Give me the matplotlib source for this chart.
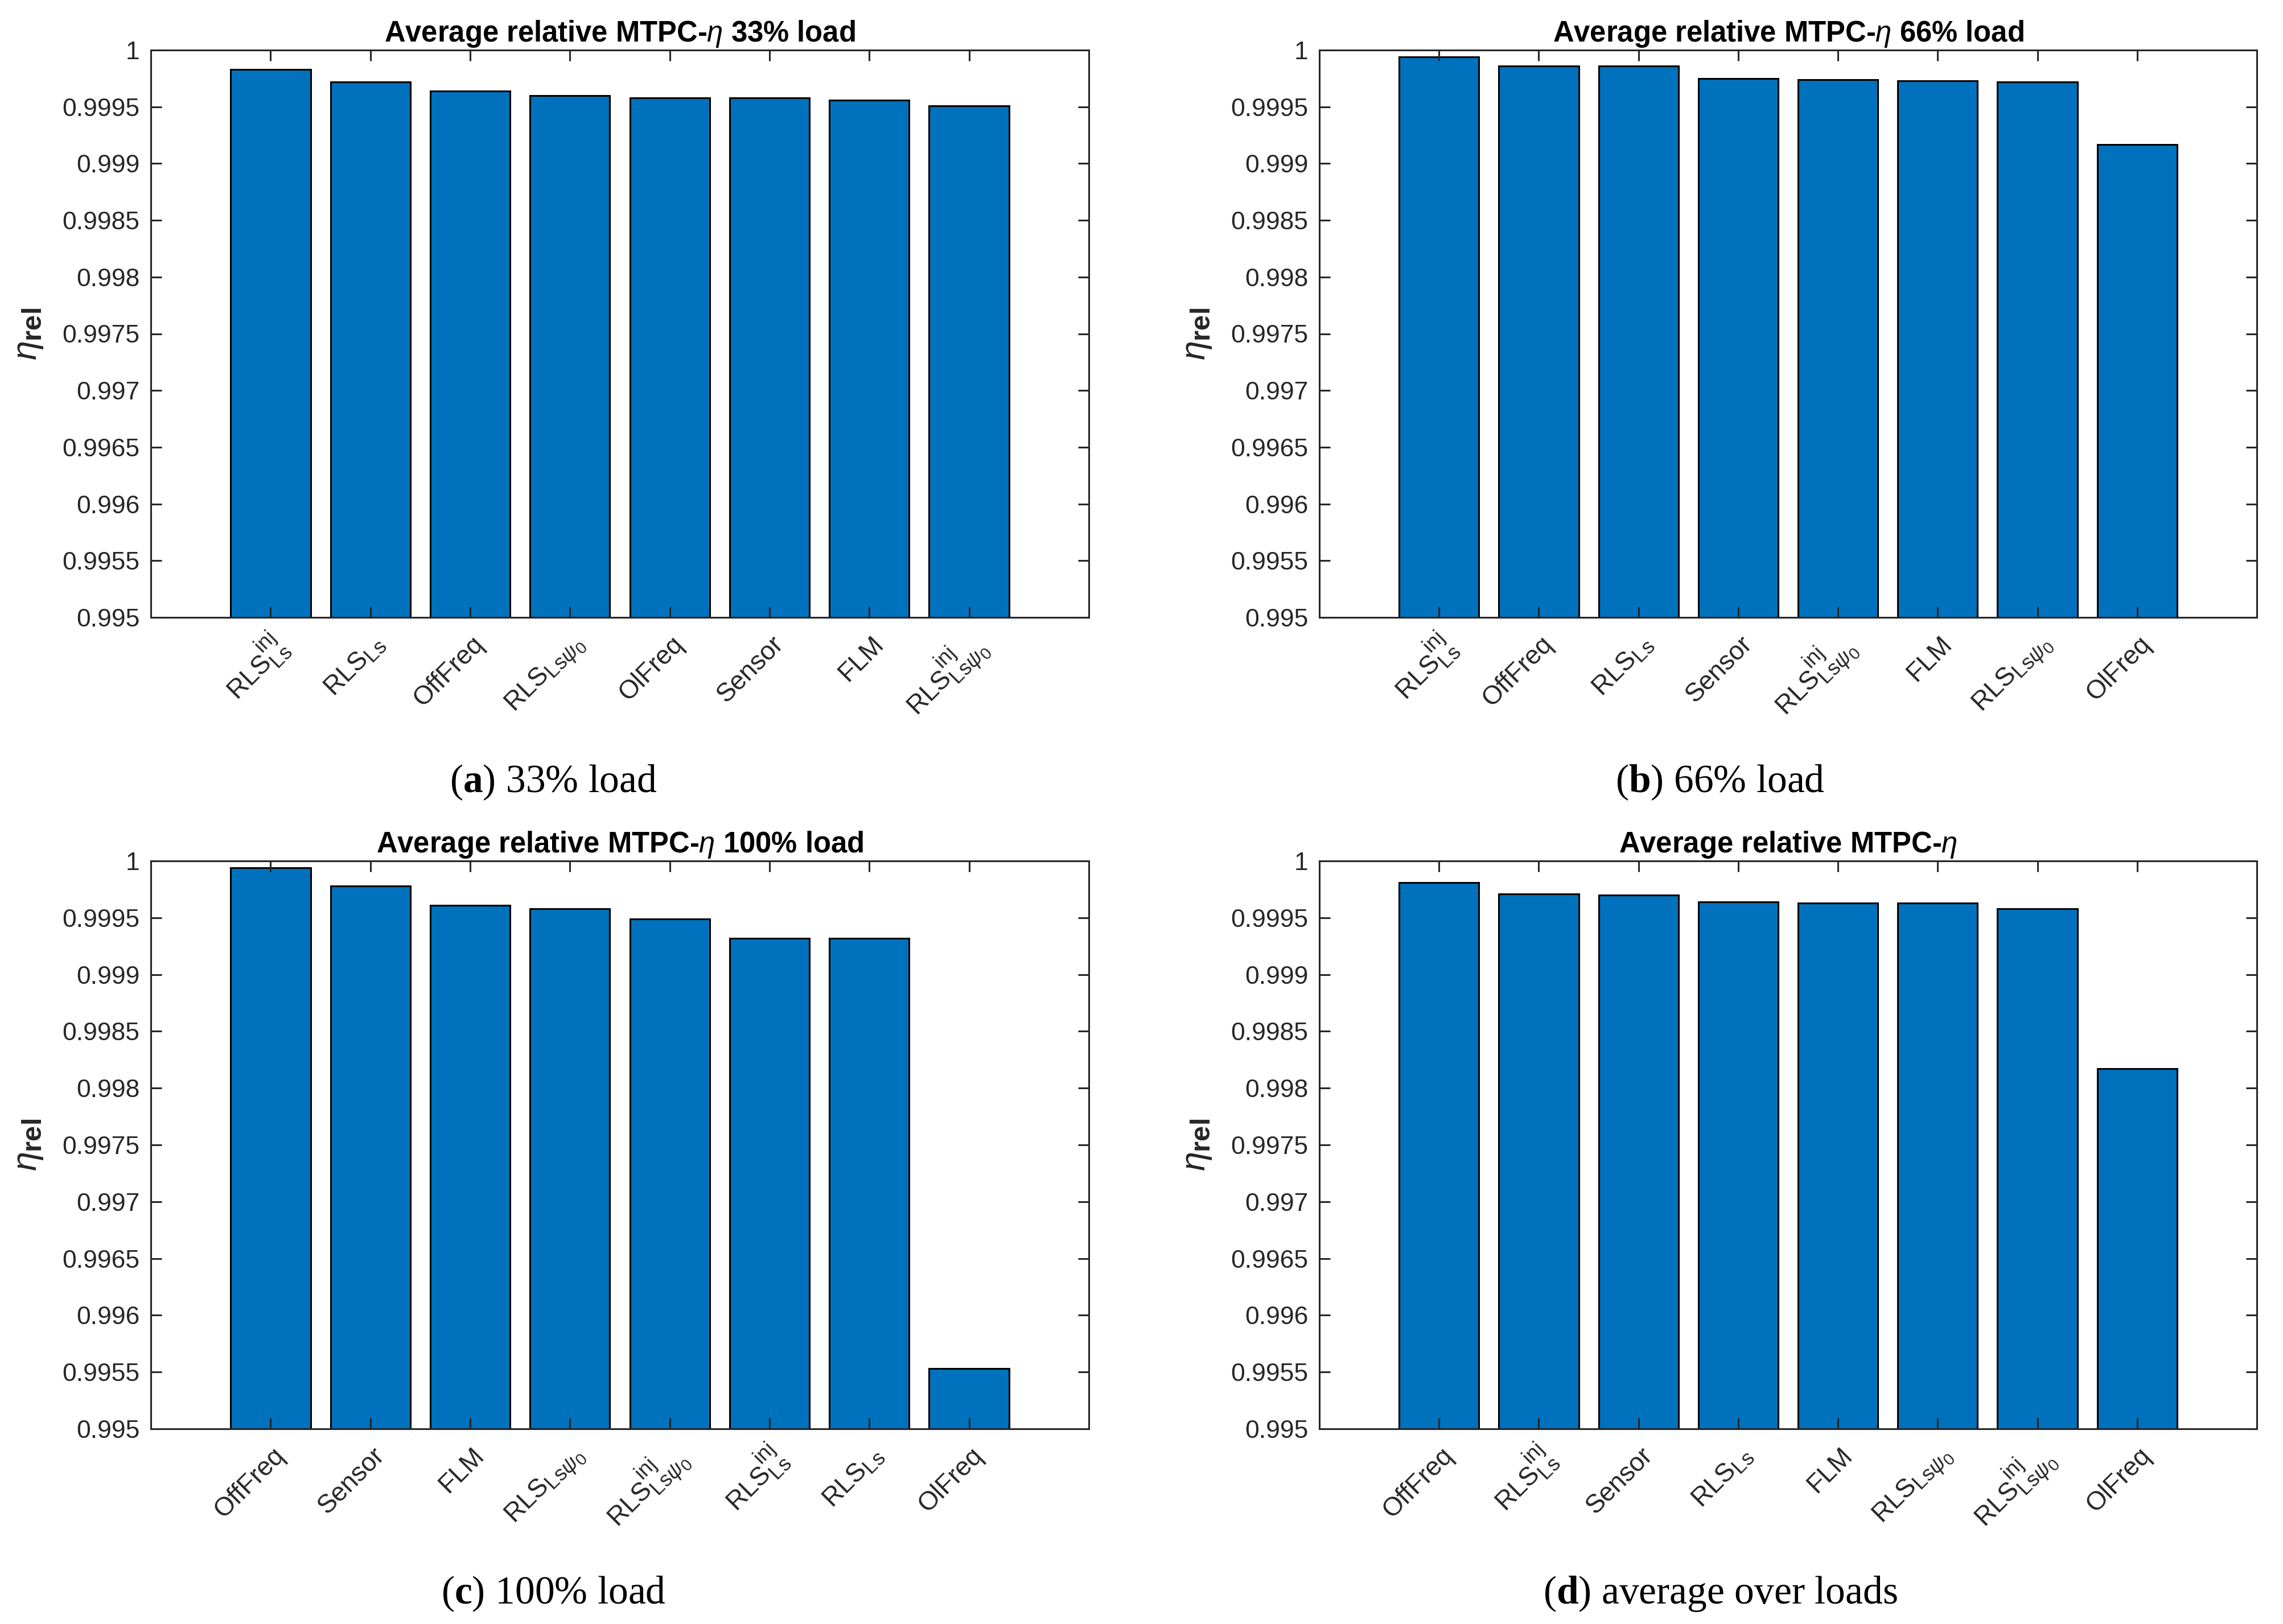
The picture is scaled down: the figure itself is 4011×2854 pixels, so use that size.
import matplotlib
matplotlib.use("Agg")
import matplotlib.pyplot as plt
import matplotlib._mathtext as mathtext_internals
from matplotlib.transforms import ScaledTranslation

plt.rcParams["font.family"] = ["Liberation Sans", "DejaVu Sans"]
plt.rcParams["mathtext.fontset"] = "custom"
plt.rcParams["mathtext.rm"] = "Liberation Sans"
plt.rcParams["mathtext.it"] = "Liberation Sans:italic"
plt.rcParams["mathtext.sf"] = "Liberation Sans:bold"
plt.rcParams["mathtext.bf"] = "Liberation Serif:bold"
# MATLAB's TeX sub/superscripts are a bit larger than matplotlib's default
mathtext_internals.SHRINK_FACTOR = 0.8

# method labels (MATLAB TeX style)
RLS_INJ_LS = r"RLS$^{\mathrm{inj}}_{\mathrm{Ls}}$"
RLS_LS = r"RLS$_{\mathrm{Ls}}$"
RLS_LSPSI = r"RLS$_{\mathrm{Ls}\psi_0}$"
RLS_INJ_LSPSI = r"RLS$^{\mathrm{inj}}_{\mathrm{Ls}\psi_0}$"

labels_33 = [RLS_INJ_LS, RLS_LS, "OffFreq", RLS_LSPSI, "OlFreq", "Sensor", "FLM", RLS_INJ_LSPSI]
eta_33 = [0.99983, 0.99972, 0.99964, 0.99960, 0.99958, 0.99958, 0.99956, 0.99951]

labels_66 = [RLS_INJ_LS, "OffFreq", RLS_LS, "Sensor", RLS_INJ_LSPSI, "FLM", RLS_LSPSI, "OlFreq"]
eta_66 = [0.99994, 0.99986, 0.99986, 0.99975, 0.99974, 0.99973, 0.99972, 0.99917]

labels_100 = ["OffFreq", "Sensor", "FLM", RLS_LSPSI, RLS_INJ_LSPSI, RLS_INJ_LS, RLS_LS, "OlFreq"]
eta_100 = [0.99994, 0.99978, 0.99961, 0.99958, 0.99949, 0.99932, 0.99932, 0.99553]

labels_avg = ["OffFreq", RLS_INJ_LS, "Sensor", RLS_LS, "FLM", RLS_LSPSI, RLS_INJ_LSPSI, "OlFreq"]
eta_avg = [0.99981, 0.99971, 0.99970, 0.99964, 0.99963, 0.99963, 0.99958, 0.99817]

titles = [
    r"Average relative MTPC-$\eta$ 33% load",
    r"Average relative MTPC-$\eta$ 66% load",
    r"Average relative MTPC-$\eta$ 100% load",
    r"Average relative MTPC-$\eta$",
]
captions = [
    r"($\mathbf{a}$) 33% load",
    r"($\mathbf{b}$) 66% load",
    r"($\mathbf{c}$) 100% load",
    r"($\mathbf{d}$) average over loads",
]

y_ticks = [0.995, 0.9955, 0.996, 0.9965, 0.997, 0.9975, 0.998, 0.9985, 0.999, 0.9995, 1.0]
y_tick_labels = ["0.995", "0.9955", "0.996", "0.9965", "0.997", "0.9975",
                 "0.998", "0.9985", "0.999", "0.9995", "1"]

BAR = "#0072BD"
AX = "#262626"
W, H, DPI = 4011, 2854, 100

# axes boxes in pixels: left, top, right, bottom
boxes = [(265, 88, 1913, 1085), (2318, 88, 3965, 1085),
         (265, 1513, 1913, 2511), (2318, 1513, 3965, 2511)]
caption_xy = [(972, 1375), (3022, 1375), (972, 2801), (3022, 2801)]

fig = plt.figure(figsize=(W / DPI, H / DPI), dpi=DPI)
shift = ScaledTranslation(0.18, 0, fig.dpi_scale_trans)

data = [(labels_33, eta_33), (labels_66, eta_66), (labels_100, eta_100), (labels_avg, eta_avg)]

for i, (labels, vals) in enumerate(data):
    l, t, r, b = boxes[i]
    ax = fig.add_axes([l / W, 1 - b / H, (r - l) / W, (b - t) / H])
    x = list(range(1, len(vals) + 1))
    ax.bar(x, vals, width=0.8, color=BAR, edgecolor="black", linewidth=2.2)
    ax.set_xlim(-0.2, 9.2)
    ax.set_ylim(0.995, 1.0)
    ax.set_yticks(y_ticks, y_tick_labels)
    ax.set_xticks(x, labels)
    ax.tick_params(axis="both", direction="in", top=True, right=True,
                   length=13.5, width=2.2, color=AX, labelcolor=AX)
    ax.tick_params(axis="y", labelsize=32, pad=14)
    ax.tick_params(axis="x", labelsize=33, pad=29)
    for lab in ax.get_xticklabels():
        lab.set_rotation(45)
        lab.set_ha("right")
        lab.set_va("center")
        lab.set_rotation_mode("anchor")
        lab.set_transform(lab.get_transform() + shift)
    for sp in ax.spines.values():
        sp.set_linewidth(2.2)
        sp.set_color(AX)
    ax.set_title(titles[i], fontsize=36.5, fontweight="bold", pad=11)
    ax.set_ylabel(r"$\eta_{\mathsf{rel}}$", fontsize=44, color=AX)
    ax.yaxis.set_label_coords(-0.113, 0.5)

    cx, cy = caption_xy[i]
    fig.text(cx / W, 1 - cy / H, captions[i], ha="center", va="center",
             fontsize=50, family="Liberation Serif")

fig.savefig("out.png", dpi=DPI, facecolor="white")
